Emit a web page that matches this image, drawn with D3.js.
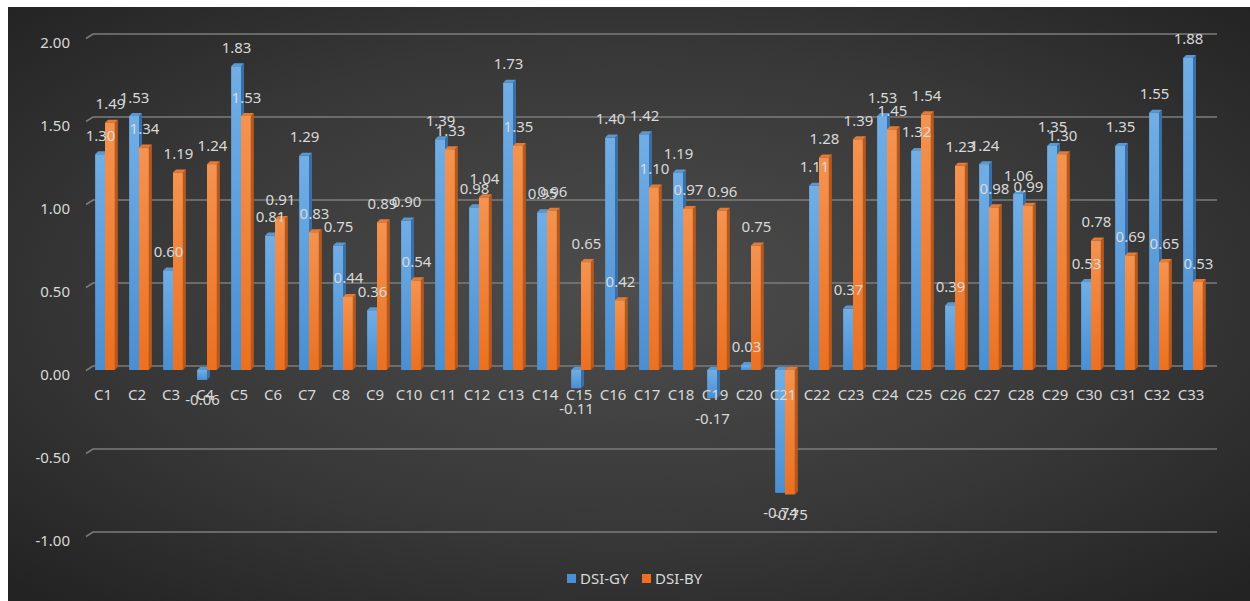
<!DOCTYPE html>
<html>
<head>
<meta charset="utf-8">
<script src="https://cdn.jsdelivr.net/npm/d3@7"></script>
<style>
  html, body { margin: 0; padding: 0; background: #ffffff; }
  svg { display: block; }
  text { font-family: "Noto Sans", "Open Sans", sans-serif; }
</style>
</head>
<body>
<svg id="chart" width="1250" height="601"></svg>
<script>
// Category names
const categories = ["C1","C2","C3","C4","C5","C6","C7","C8","C9","C10","C11","C12","C13","C14","C15","C16","C17","C18","C19","C20","C21","C22","C23","C24","C25","C26","C27","C28","C29","C30","C31","C32","C33"];

// Series names
const seriesNames = ["DSI-GY", "DSI-BY"];

// DSI-GY values
const dsiGY = [1.30,1.53,0.60,-0.06,1.83,0.81,1.29,0.75,0.36,0.90,1.39,0.98,1.73,0.95,-0.11,1.40,1.42,1.19,-0.17,0.03,-0.74,1.11,0.37,1.53,1.32,0.39,1.24,1.06,1.35,0.53,1.35,1.55,1.88];

// DSI-BY values
const dsiBY = [1.49,1.34,1.19,1.24,1.53,0.91,0.83,0.44,0.89,0.54,1.33,1.04,1.35,0.96,0.65,0.42,1.10,0.97,0.96,0.75,-0.75,1.28,1.39,1.45,1.54,1.23,0.98,0.99,1.30,0.78,0.69,0.65,0.53];

// Value axis ticks
const yTicks = [-1.00, -0.50, 0.00, 0.50, 1.00, 1.50, 2.00];

const svg = d3.select("#chart");
const W = 1250, H = 601;

// two decimals with a plain hyphen for negatives
const fmt = v => d3.format(".2f")(v).replace("\u2212", "-");

// depth offset of the 3D look
const DX = 3, DY = -3;
const WALL_DX = 7, WALL_DY = -4;

// ---------- background ----------
const defs = svg.append("defs");
const bg = defs.append("radialGradient").attr("id", "bgGrad")
  .attr("cx", "50%").attr("cy", "48%").attr("r", "70%");
bg.append("stop").attr("offset", "0%").attr("stop-color", "#4d4d4d");
bg.append("stop").attr("offset", "60%").attr("stop-color", "#373737");
bg.append("stop").attr("offset", "100%").attr("stop-color", "#232323");

svg.append("rect").attr("x", 8).attr("y", 7).attr("width", W - 8).attr("height", H - 7)
  .attr("fill", "url(#bgGrad)");

// bar gradients
const palette = {
  "DSI-GY": { top: "#71aee6", bottom: "#4a8fd2", side: "#3a6fa5", cap: "#5c98d0" },
  "DSI-BY": { top: "#f49350", bottom: "#ec7020", side: "#b9581b", cap: "#e47a33" }
};
seriesNames.forEach((s, i) => {
  const g = defs.append("linearGradient").attr("id", "barGrad" + i)
    .attr("x1", 0).attr("y1", 0).attr("x2", 0).attr("y2", 1);
  g.append("stop").attr("offset", "0%").attr("stop-color", palette[s].top);
  g.append("stop").attr("offset", "100%").attr("stop-color", palette[s].bottom);
});

// ---------- scales ----------
const y = d3.scaleLinear().domain([-1, 2]).range([536, 38]);
const x0 = d3.scaleBand().domain(categories).range([88, 1210])
  .paddingInner(0.42).paddingOuter(0.21);
const x1 = d3.scaleBand().domain(seriesNames).range([0, x0.bandwidth()]);

// ---------- gridlines (back wall) ----------
const grid = svg.append("g");
yTicks.forEach(t => {
  const yf = y(t);
  grid.append("path")
    .attr("d", `M86,${yf + 0.5} L${86 + WALL_DX},${yf + WALL_DY} L1217,${yf + WALL_DY}`)
    .attr("fill", "none").attr("stroke", "#7c7c7c").attr("stroke-width", 1.5);
});

// value axis labels
svg.append("g").selectAll("text").data(yTicks).join("text")
  .attr("x", 70).attr("y", d => y(d) + 9.5)
  .attr("text-anchor", "end")
  .attr("fill", "#d9d9d9").attr("font-size", 15)
  .text(d => fmt(d));

// ---------- bars ----------
const rows = [];
categories.forEach((c, i) => {
  rows.push({ cat: c, series: "DSI-GY", si: 0, value: dsiGY[i] });
  rows.push({ cat: c, series: "DSI-BY", si: 1, value: dsiBY[i] });
});

const bw = x1.bandwidth();
const barG = svg.append("g");
const bars = barG.selectAll("g").data(rows).join("g");

bars.each(function(d) {
  const g = d3.select(this);
  const bx = x0(d.cat) + x1(d.series);
  const yTop = Math.min(y(0), y(d.value));
  const yBot = Math.max(y(0), y(d.value));
  // side face
  g.append("path")
    .attr("d", `M${bx + bw},${yTop} L${bx + bw + DX},${yTop + DY} L${bx + bw + DX},${yBot + DY} L${bx + bw},${yBot} Z`)
    .attr("fill", palette[d.series].side);
  // top face
  g.append("path")
    .attr("d", `M${bx},${yTop} L${bx + DX},${yTop + DY} L${bx + bw + DX},${yTop + DY} L${bx + bw},${yTop} Z`)
    .attr("fill", palette[d.series].cap);
  // front face
  g.append("rect")
    .attr("x", bx).attr("y", yTop)
    .attr("width", bw).attr("height", Math.max(yBot - yTop, 0.5))
    .attr("fill", `url(#barGrad${d.si})`);
});

// category labels (drawn over the bars)
svg.append("g").selectAll("text").data(categories).join("text")
  .attr("x", d => x0(d) + x0.bandwidth() / 2 - 2)
  .attr("y", 399.5)
  .attr("text-anchor", "middle")
  .attr("fill", "#d9d9d9").attr("font-size", 15)
  .text(d => d);

// ---------- value labels ----------
svg.append("g").selectAll("text").data(rows).join("text")
  .attr("x", d => x0(d.cat) + x1(d.series) + bw / 2 + 0.5)
  .attr("y", d => d.value >= 0 ? y(d.value) - 13.5 : y(d.value) + 25.5)
  .attr("text-anchor", "middle")
  .attr("fill", "#d9d9d9").attr("font-size", 15)
  .text(d => fmt(d.value));

// ---------- legend ----------
const legend = svg.append("g");
const legendPos = [567, 642];
seriesNames.forEach((s, i) => {
  legend.append("rect").attr("x", legendPos[i]).attr("y", 574)
    .attr("width", 9).attr("height", 9)
    .attr("fill", palette[s].bottom);
  legend.append("text").attr("x", legendPos[i] + 13).attr("y", 583.5)
    .attr("fill", "#d9d9d9").attr("font-size", 15)
    .text(s);
});
</script>
</body>
</html>
